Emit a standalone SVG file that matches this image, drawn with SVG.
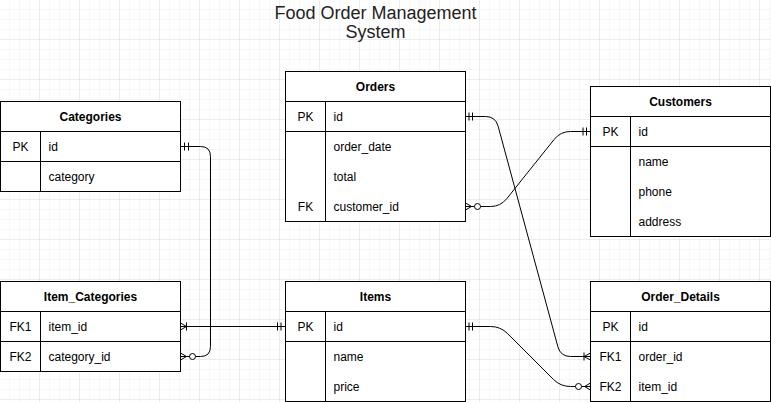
<svg xmlns="http://www.w3.org/2000/svg" width="771" height="402" viewBox="0 0 771 402">
  <defs>
    <pattern id="minor" width="10" height="10" patternUnits="userSpaceOnUse">
      <path d="M10 0 V10 M0 10 H10" fill="none" stroke="#f0f0f0" stroke-width="1"/>
    </pattern>
    <pattern id="major" width="40" height="40" patternUnits="userSpaceOnUse">
      <rect width="40" height="40" fill="url(#minor)"/>
      <path d="M40 0 V40 M0 40 H40" fill="none" stroke="#e0e0e0" stroke-width="1"/>
    </pattern>
    <style>
      .tbl { fill: #ffffff; stroke: #000000; stroke-width: 1; }
      .ln { stroke: #000000; stroke-width: 1; fill: none; }
      .hdr { font-family: "Liberation Sans", Arial, Helvetica, sans-serif; font-size: 12px; font-weight: bold; fill: #000000; text-anchor: middle; }
      .key { font-family: "Liberation Sans", Arial, Helvetica, sans-serif; font-size: 12px; fill: #000000; text-anchor: middle; }
      .fld { font-family: "Liberation Sans", Arial, Helvetica, sans-serif; font-size: 12px; fill: #000000; }
      .title { font-family: "Liberation Sans", Arial, Helvetica, sans-serif; font-size: 18px; fill: #222222; text-anchor: middle; }
      .conn { stroke: #000000; stroke-width: 1; fill: none; }
      .circ { stroke: #000000; stroke-width: 1; fill: #ffffff; }
    </style>
  </defs>
  <rect x="0" y="0" width="771" height="402" fill="#ffffff"/>
  <rect x="0" y="0" width="771" height="402" fill="url(#major)"/>

  <g id="title">
    <text class="title" x="375.5" y="18.5">Food Order Management</text>
    <text class="title" x="375.5" y="38">System</text>
  </g>

  <g id="connectors">
    <!-- Categories.id -> Item_Categories.category_id -->
    <path class="conn" d="M180.5 146.5 H200.5 Q210.5 146.5 210.5 156.5 V346.5 Q210.5 356.5 200.5 356.5 H180.5"/>
    <path class="conn" d="M184.5 142.5 V150.5 M188.5 142.5 V150.5"/>
    <path class="conn" d="M180.5 353 L186.5 356.5 L180.5 360"/>
    <circle class="circ" cx="192.5" cy="356.5" r="3"/>

    <!-- Item_Categories.item_id -> Items.id -->
    <path class="conn" d="M180.5 326.5 H285.5"/>
    <path class="conn" d="M180.5 323 L186.5 326.5 L180.5 330 M186.5 322.5 V330.5"/>
    <path class="conn" d="M277.5 322.5 V330.5 M281 322.5 V330.5"/>

    <!-- Orders.id -> Order_Details.order_id -->
    <path class="conn" d="M465.5 116.5 H485.5 Q495.5 116.5 498.1 126.2 L557.9 346.8 Q560.5 356.5 570.5 356.5 H590.5"/>
    <path class="conn" d="M469 112.5 V120.5 M472.5 112.5 V120.5"/>
    <path class="conn" d="M590.5 353 L584 356.5 L590.5 360 M584 352.5 V360.5"/>

    <!-- Orders.customer_id -> Customers.id -->
    <path class="conn" d="M465.5 206.5 H490.5 Q500.5 206.5 506.75 198.7 L554.25 139.3 Q560.5 131.5 570.5 131.5 H590.5"/>
    <path class="conn" d="M465.5 203 L471.5 206.5 L465.5 210"/>
    <circle class="circ" cx="477.5" cy="206.5" r="3"/>
    <path class="conn" d="M583 127.5 V135.5 M586.5 127.5 V135.5"/>

    <!-- Items.id -> Order_Details.item_id -->
    <path class="conn" d="M465.5 326.5 H490.5 Q500.5 326.5 507.6 333.6 L553.4 379.4 Q560.5 386.5 570.5 386.5 H590.5"/>
    <path class="conn" d="M469 322.5 V330.5 M472.5 322.5 V330.5"/>
    <path class="conn" d="M590.5 383 L584.5 386.5 L590.5 390"/>
    <circle class="circ" cx="578.5" cy="386.5" r="3"/>
  </g>

  <g id="Categories">
    <rect class="tbl" x="0.5" y="101.5" width="180" height="90"/>
    <path class="ln" d="M0.5 131.5 H180.5 M0.5 161.5 H180.5 M40.5 131.5 V191.5"/>
    <text class="hdr" x="90.5" y="120.5">Categories</text>
    <text class="key" x="20.5" y="150.5">PK</text>
    <text class="fld" x="48.5" y="150.5">id</text>
    <text class="fld" x="48.5" y="180.5">category</text>
  </g>

  <g id="Orders">
    <rect class="tbl" x="285.5" y="71.5" width="180" height="150"/>
    <path class="ln" d="M285.5 101.5 H465.5 M285.5 131.5 H465.5 M325.5 101.5 V221.5"/>
    <text class="hdr" x="375.5" y="90.5">Orders</text>
    <text class="key" x="305.5" y="120.5">PK</text>
    <text class="fld" x="333.5" y="120.5">id</text>
    <text class="fld" x="333.5" y="150.5">order_date</text>
    <text class="fld" x="333.5" y="180.5">total</text>
    <text class="key" x="305.5" y="210.5">FK</text>
    <text class="fld" x="333.5" y="210.5">customer_id</text>
  </g>

  <g id="Customers">
    <rect class="tbl" x="590.5" y="86.5" width="180" height="150"/>
    <path class="ln" d="M590.5 116.5 H770.5 M590.5 146.5 H770.5 M630.5 116.5 V236.5"/>
    <text class="hdr" x="680.5" y="105.5">Customers</text>
    <text class="key" x="610.5" y="135.5">PK</text>
    <text class="fld" x="638.5" y="135.5">id</text>
    <text class="fld" x="638.5" y="165.5">name</text>
    <text class="fld" x="638.5" y="195.5">phone</text>
    <text class="fld" x="638.5" y="225.5">address</text>
  </g>

  <g id="Item_Categories">
    <rect class="tbl" x="0.5" y="281.5" width="180" height="90"/>
    <path class="ln" d="M0.5 311.5 H180.5 M0.5 341.5 H180.5 M40.5 311.5 V371.5"/>
    <text class="hdr" x="90.5" y="300.5">Item_Categories</text>
    <text class="key" x="20.5" y="330.5">FK1</text>
    <text class="fld" x="48.5" y="330.5">item_id</text>
    <text class="key" x="20.5" y="360.5">FK2</text>
    <text class="fld" x="48.5" y="360.5">category_id</text>
  </g>

  <g id="Items">
    <rect class="tbl" x="285.5" y="281.5" width="180" height="120"/>
    <path class="ln" d="M285.5 311.5 H465.5 M285.5 341.5 H465.5 M325.5 311.5 V401.5"/>
    <text class="hdr" x="375.5" y="300.5">Items</text>
    <text class="key" x="305.5" y="330.5">PK</text>
    <text class="fld" x="333.5" y="330.5">id</text>
    <text class="fld" x="333.5" y="360.5">name</text>
    <text class="fld" x="333.5" y="390.5">price</text>
  </g>

  <g id="Order_Details">
    <rect class="tbl" x="590.5" y="281.5" width="180" height="120"/>
    <path class="ln" d="M590.5 311.5 H770.5 M590.5 341.5 H770.5 M630.5 311.5 V401.5"/>
    <text class="hdr" x="680.5" y="300.5">Order_Details</text>
    <text class="key" x="610.5" y="330.5">PK</text>
    <text class="fld" x="638.5" y="330.5">id</text>
    <text class="key" x="610.5" y="360.5">FK1</text>
    <text class="fld" x="638.5" y="360.5">order_id</text>
    <text class="key" x="610.5" y="390.5">FK2</text>
    <text class="fld" x="638.5" y="390.5">item_id</text>
  </g>
</svg>
